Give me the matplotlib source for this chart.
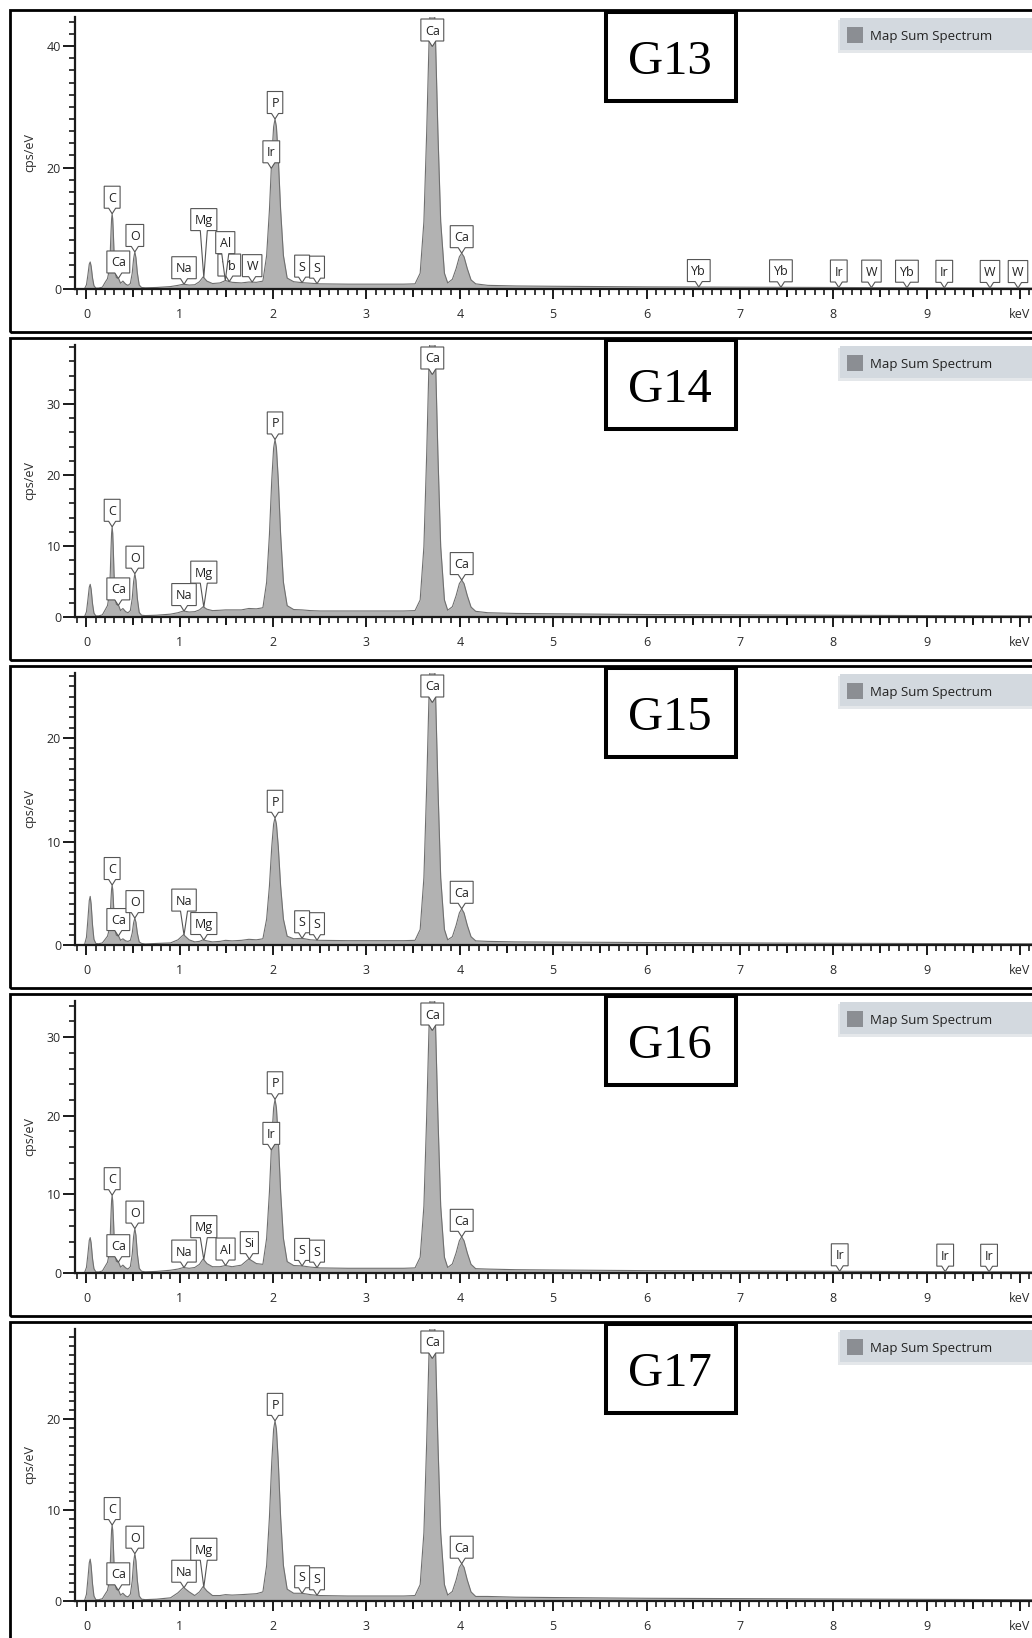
import numpy as np
import matplotlib.pyplot as plt
from matplotlib.patches import Rectangle, Polygon
from matplotlib.transforms import IdentityTransform
from matplotlib.ticker import MultipleLocator

plt.rcParams['font.family'] = ['Open Sans', 'DejaVu Sans']

W, H = 1032, 1638  # output size in pixels

# energy axis (keV), shared by the five spectra
energy = [-0.06, -0.02, 0.00, 0.015, 0.03, 0.04, 0.05, 0.065, 0.08, 0.10, 0.13,
          0.17, 0.20, 0.225, 0.245, 0.255, 0.263, 0.269, 0.275, 0.281, 0.287, 0.295, 0.305, 0.32, 0.345,
          0.365, 0.39, 0.42, 0.445,
          0.47, 0.49, 0.505, 0.518, 0.53, 0.545, 0.565, 0.59,
          0.63, 0.75, 0.90, 0.98, 1.04, 1.10, 1.16, 1.21, 1.25, 1.29, 1.35, 1.43, 1.49, 1.56, 1.66, 1.74, 1.82, 1.89,
          1.93, 1.96, 1.985, 2.005, 2.02, 2.035, 2.055, 2.08, 2.11, 2.15, 2.22,
          2.31, 2.40, 2.50, 2.80, 3.10, 3.40, 3.52,
          3.575, 3.615, 3.645, 3.67, 3.69, 3.705, 3.72, 3.74, 3.765, 3.795, 3.835,
          3.87, 3.92, 3.96, 3.995, 4.02, 4.045, 4.08, 4.12, 4.17,
          4.30, 4.60, 5.00, 5.50, 6.00, 7.00, 8.00, 9.00, 10.20]

# cps/eV
g13 = [0, 0.07, 0.7, 2.3, 4.1, 4.45, 3.75, 1.8, 0.55, 0.15, 0.15,
       0.3, 1.1, 1.7, 3.2, 6.15, 9.5, 11.55, 12.4, 11.55, 9.5, 6.15, 3.2, 1.9, 1.7,
       0.95, 1.3, 0.8, 0.6,
       0.9, 2.6, 5.0, 6.1, 5.15, 2.65, 0.65, 0.25,
       0.2, 0.25, 0.4, 0.6, 0.8, 0.65, 0.7, 1.2, 2.0, 1.3, 0.9, 1.0, 1.4, 1.1, 1.0, 1.15, 1.1, 1.3,
       5.5, 13.0, 21.6, 26.7, 28.0, 26.7, 21.6, 13.0, 5.5, 1.8, 1.2,
       1.05, 0.95, 0.85, 0.8, 0.8, 0.8, 0.85,
       2.6, 11.1, 25.9, 40.7, 49.6, 52.0, 49.6, 40.7, 25.9, 11.1, 2.6,
       1.0, 1.6, 3.35, 5.3, 5.9, 5.3, 3.35, 1.5, 0.85,
       0.6, 0.5, 0.45, 0.4, 0.35, 0.3, 0.25, 0.2, 0.15]
g14 = [0, 0.07, 0.74, 2.4, 4.2, 4.6, 3.9, 1.85, 0.55, 0.15, 0.15,
       0.3, 1.0, 1.6, 3.2, 6.2, 9.7, 11.8, 12.7, 11.8, 9.7, 6.2, 3.2, 1.8, 1.6,
       0.9, 1.2, 0.75, 0.6,
       0.9, 2.6, 5.0, 6.1, 5.15, 2.6, 0.65, 0.25,
       0.2, 0.25, 0.4, 0.6, 0.85, 0.7, 0.75, 1.0, 1.45, 1.1, 0.9, 0.95, 1.0, 1.0, 1.0, 1.2, 1.15, 1.3,
       4.9, 11.6, 19.3, 23.8, 25.0, 23.8, 19.3, 11.6, 4.9, 1.6, 1.05,
       1.0, 0.9, 0.85, 0.85, 0.85, 0.85, 0.9,
       2.4, 9.9, 23.0, 36.0, 43.9, 46.0, 43.9, 36.0, 23.0, 9.9, 2.4,
       0.95, 1.45, 3.0, 4.7, 5.2, 4.7, 3.0, 1.4, 0.8,
       0.6, 0.5, 0.45, 0.4, 0.35, 0.3, 0.25, 0.2, 0.15]
g15 = [0, 0.07, 0.75, 2.45, 4.3, 4.7, 3.95, 1.9, 0.55, 0.15, 0.12,
       0.2, 0.55, 0.85, 1.55, 2.9, 4.5, 5.4, 5.8, 5.4, 4.5, 2.9, 1.55, 0.95, 0.85,
       0.45, 0.6, 0.4, 0.35,
       0.45, 1.15, 2.15, 2.6, 2.2, 1.15, 0.3, 0.15,
       0.1, 0.15, 0.2, 0.5, 1.0, 0.5, 0.3, 0.35, 0.5, 0.4, 0.3, 0.35, 0.45, 0.4, 0.45, 0.55, 0.5, 0.6,
       2.5, 5.7, 9.5, 11.7, 12.3, 11.7, 9.5, 5.7, 2.5, 0.85, 0.6,
       0.65, 0.5, 0.45, 0.42, 0.42, 0.42, 0.45,
       1.5, 6.5, 15.4, 24.2, 29.6, 31.0, 29.6, 24.2, 15.4, 6.5, 1.5,
       0.5, 0.8, 1.9, 3.1, 3.5, 3.1, 1.9, 0.8, 0.4,
       0.35, 0.3, 0.28, 0.26, 0.24, 0.2, 0.17, 0.14, 0.12]
g16 = [0, 0.07, 0.72, 2.35, 4.15, 4.5, 3.8, 1.8, 0.55, 0.15, 0.13,
       0.25, 0.85, 1.35, 2.55, 4.9, 7.6, 9.2, 9.9, 9.2, 7.6, 4.9, 2.55, 1.5, 1.35,
       0.75, 1.0, 0.65, 0.5,
       0.8, 2.4, 4.65, 5.65, 4.8, 2.45, 0.6, 0.22,
       0.15, 0.2, 0.35, 0.5, 0.7, 0.6, 0.7, 1.1, 1.8, 1.2, 0.8, 0.8, 0.95, 0.8, 1.0, 1.8, 1.2, 1.1,
       4.4, 10.3, 17.0, 21.0, 22.1, 21.0, 17.0, 10.3, 4.4, 1.45, 0.95,
       0.9, 0.75, 0.65, 0.6, 0.6, 0.6, 0.65,
       2.0, 8.5, 20.0, 31.3, 38.2, 40.0, 38.2, 31.3, 20.0, 8.5, 2.0,
       0.7, 1.15, 2.55, 4.1, 4.6, 4.1, 2.55, 1.1, 0.55,
       0.5, 0.42, 0.38, 0.34, 0.3, 0.26, 0.22, 0.18, 0.14]
g17 = [0, 0.07, 0.74, 2.4, 4.2, 4.6, 3.85, 1.85, 0.55, 0.15, 0.14,
       0.25, 0.75, 1.15, 2.15, 4.1, 6.4, 7.8, 8.35, 7.8, 6.4, 4.1, 2.15, 1.3, 1.15,
       0.65, 0.85, 0.55, 0.45,
       0.75, 2.2, 4.3, 5.2, 4.4, 2.25, 0.55, 0.2,
       0.15, 0.2, 0.35, 0.9, 1.5, 1.0, 0.6, 1.0, 1.6, 1.1, 0.6, 0.6, 0.7, 0.65, 0.7, 0.75, 0.8, 1.0,
       3.9, 9.2, 15.3, 18.9, 19.8, 18.9, 15.3, 9.2, 3.9, 1.3, 0.85,
       0.85, 0.7, 0.6, 0.55, 0.55, 0.55, 0.6,
       1.8, 7.5, 17.5, 27.4, 33.4, 35.0, 33.4, 27.4, 17.5, 7.5, 1.8,
       0.65, 1.05, 2.3, 3.7, 4.1, 3.7, 2.3, 1.0, 0.5,
       0.5, 0.42, 0.38, 0.34, 0.3, 0.26, 0.22, 0.18, 0.14]

samples = ['G13', 'G14', 'G15', 'G16', 'G17']
spectra = [g13, g14, g15, g16, g17]
y_max = [44.8, 38.3, 26.3, 34.6, 29.9]
y_major = [20, 10, 10, 10, 10]
y_minor = [2, 2, 1, 2, 1]

# peak labels (element, keV)
lines_g13 = [('C', 0.275), ('Ca', 0.341), ('O', 0.518), ('Na', 1.045), ('Mg', 1.257),
             ('Yb', 1.53), ('Al', 1.487), ('W', 1.775), ('Ir', 1.98), ('P', 2.02),
             ('S', 2.31), ('S', 2.47), ('Ca', 3.705), ('Ca', 4.02),
             ('Yb', 6.56), ('Yb', 7.44), ('Ir', 8.06), ('W', 8.41), ('Yb', 8.79),
             ('Ir', 9.19), ('W', 9.68), ('W', 9.98)]
lines_g14 = [('C', 0.275), ('Ca', 0.341), ('O', 0.518), ('Na', 1.045), ('Mg', 1.257),
             ('P', 2.02), ('Ca', 3.705), ('Ca', 4.02)]
lines_g15 = [('C', 0.275), ('Ca', 0.341), ('O', 0.518), ('Na', 1.045), ('Mg', 1.257),
             ('P', 2.02), ('S', 2.31), ('S', 2.47), ('Ca', 3.705), ('Ca', 4.02)]
lines_g16 = [('C', 0.275), ('Ca', 0.341), ('O', 0.518), ('Na', 1.045), ('Mg', 1.257),
             ('Al', 1.49), ('Si', 1.745), ('Ir', 1.98), ('P', 2.02), ('S', 2.31), ('S', 2.47),
             ('Ca', 3.705), ('Ca', 4.02), ('Ir', 8.07), ('Ir', 9.2), ('Ir', 9.67)]
lines_g17 = [('C', 0.275), ('Ca', 0.341), ('O', 0.518), ('Na', 1.045), ('Mg', 1.257),
             ('P', 2.02), ('S', 2.31), ('S', 2.47), ('Ca', 3.705), ('Ca', 4.02)]
peak_lines = [lines_g13, lines_g14, lines_g15, lines_g16, lines_g17]

# callouts whose box sits well above the peak (lift in px)
raised = {('G13', 'Mg'): 47, ('G13', 'Al'): 27, ('G14', 'Mg'): 24,
          ('G15', 'Na'): 24, ('G16', 'Mg'): 22, ('G17', 'Mg'): 27}

x_ticks = list(range(11))
x_ticklabels = [str(k) for k in range(10)] + ['keV']

fig = plt.figure(figsize=(W / 100, H / 100), dpi=100)
fig.patch.set_facecolor('white')
renderer = fig.canvas.get_renderer()


def fig_rect(x, y, w, h, **kw):
    # box given in pixels from the top-left corner
    r = Rectangle((x / W, 1 - (y + h) / H), w / W, h / H, transform=fig.transFigure, **kw)
    fig.add_artist(r)
    return r


def callout(ax, text, x, y, lift, z):
    tx, ty = ax.transData.transform((x, y))
    top = ax.transAxes.transform((0, 1))[1]
    h = 22
    ty = min(ty, top - 2 - h - lift)  # clipped peaks: keep the box inside
    by = ty + lift
    t = ax.text(tx, by + 6.5, text, transform=IdentityTransform(), ha='center', va='baseline',
                fontsize=9, color='#222222', zorder=z + 1, clip_on=False)
    w = t.get_window_extent(renderer).width + 8
    verts = [(tx - w / 2, by), (tx - 3.5, by), (tx, ty), (tx + 3.5, by),
             (tx + w / 2, by), (tx + w / 2, by + h), (tx - w / 2, by + h)]
    ax.add_patch(Polygon(verts, closed=True, transform=IdentityTransform(), fc='white',
                         ec='#555555', lw=0.8, zorder=z, clip_on=False))


for i, name in enumerate(samples):
    top = 8 + 328 * i

    # panel frame
    fig_rect(9.5, top + 1.5, 1040, 322, fill=False, ec='black', lw=2.0)

    ax = fig.add_axes([75 / W, 1 - (top + 281) / H, (W - 75) / W, 272 / H])
    ax.set_xlim(-0.123, 10.13)
    ax.set_ylim(0, y_max[i])
    ax.patch.set_alpha(0)

    ax.fill_between(energy, spectra[i], 0, color='#b2b2b2', lw=0)
    ax.plot(energy, spectra[i], color='#6f6f6f', lw=0.8)

    for s in ['top', 'right']:
        ax.spines[s].set_visible(False)
    for s in ['left', 'bottom']:
        ax.spines[s].set_linewidth(1.6)
        ax.spines[s].set_color('#1a1a1a')

    ax.set_xticks(x_ticks, x_ticklabels)
    ax.xaxis.set_minor_locator(MultipleLocator(0.1))
    ax.yaxis.set_major_locator(MultipleLocator(y_major[i]))
    ax.yaxis.set_minor_locator(MultipleLocator(y_minor[i]))
    ax.tick_params(axis='x', which='major', length=7.5, width=1.4, pad=6.5,
                   labelsize=9, labelcolor='#2b2b2b', color='#1a1a1a')
    ax.tick_params(axis='x', which='minor', length=4.3, width=1.2, color='#1a1a1a')
    ax.tick_params(axis='y', which='major', length=8.5, width=1.4, pad=1.5,
                   labelsize=9, labelcolor='#2b2b2b', color='#1a1a1a')
    ax.tick_params(axis='y', which='minor', length=4.3, width=1.2, color='#1a1a1a')

    # half-keV ticks are a bit longer
    sec = ax.secondary_xaxis('bottom')
    sec.set_xticks(np.arange(0.5, 10, 1.0))
    sec.tick_params(length=6, width=1.4, labelbottom=False, color='#1a1a1a')
    sec.spines['bottom'].set_visible(False)

    fig.text(30 / W, 1 - (top + 145) / H, 'cps/eV', rotation=90, ha='center', va='center',
             fontsize=9, color='#2b2b2b')

    for j, (el, e) in enumerate(peak_lines[i]):
        lift = raised.get((name, el), 5.5)
        callout(ax, el, e, np.interp(e, energy, spectra[i]), lift, 10 + 2 * j)

    # sample tag
    fig_rect(606, top + 4, 130, 89, fc='white', ec='black', lw=2.9)
    fig.text(670 / W, 1 - (top + 66) / H, name, fontsize=35, family='Liberation Serif',
             ha='center', va='baseline')

    # legend strip
    fig_rect(838, top + 12, 210, 33, fc='#e4e7ea', ec='none')
    fig_rect(840, top + 10, 210, 32, fc='#d3d9df', ec='none')
    fig_rect(847, top + 19, 16, 16, fc='#8b8e93', ec='none')
    fig.text(870 / W, 1 - (top + 32) / H, 'Map Sum Spectrum', fontsize=9.5, color='#222222',
             va='baseline')

fig.savefig('out.png', dpi=100, facecolor='white')
